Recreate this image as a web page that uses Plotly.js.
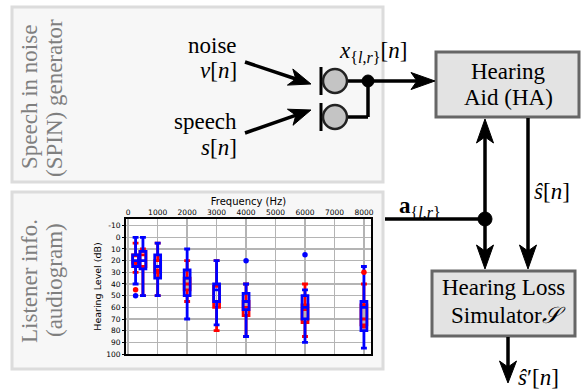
<!DOCTYPE html>
<html><head><meta charset="utf-8">
<script src="https://cdn.plot.ly/plotly-3.0.1.min.js"></script>
<style>html,body{margin:0;padding:0;background:#fff;} #chart{width:582px;height:392px;}</style>
</head><body><div id="chart"></div>
<script>
// ---- audiogram data (Hz / dB HL) ----
const freqs = [250, 500, 1000, 2000, 3000, 4000, 6000, 8000];
const redLower  = [5, 10, 5, 20, 20, 40, 40, 40];
const redQ1     = [15, 12, 20, 35, 42, 55, 58, 58];
const redMedian = [15, 15, 28, 40, 55, 60, 62, 70];
const redQ3     = [22, 25, 30, 45, 60, 67, 73, 75];
const redUpper  = [30, 50, 50, 55, 80, 85, 85, 77];
const blueLower  = [0, 0, 5, 10, 20, 40, 45, 25];
const blueQ1     = [15, 12, 15, 28, 40, 48, 50, 55];
const blueMedian = [20, 20, 25, 35, 45, 55, 60, 60];
const blueQ3     = [25, 27, 35, 50, 55, 62, 70, 80];
const blueUpper  = [40, 50, 50, 70, 75, 85, 90, 95];
const redOutX = [250, 8000], redOutY = [45, 30];
const blueOutX = [250, 4000, 6000], blueOutY = [50, 20, 15];
const xTickVals = [0, 1000, 2000, 3000, 4000, 5000, 6000, 7000, 8000];
const xTickText = ['0', '1000', '2000', '3000', '4000', '5000', '6000', '7000', '8000'];
const yTickVals = [-10, 0, 10, 20, 30, 40, 50, 60, 70, 80, 90, 100];
const yTickText = ['-10', '0', '10', '20', '30', '40', '50', '60', '70', '80', '90', '100'];

// ---- diagram helpers (pixel -> paper) ----
const W = 582, H = 392;
const px = x => x / W, py = y => 1 - y / H;
const shapes = [];
function rect(x0, y0, x1, y1, fill, lc, lw, layer) {
  shapes.push({type: 'rect', xref: 'paper', yref: 'paper', x0: px(x0), x1: px(x1), y0: py(y1), y1: py(y0),
    fillcolor: fill, line: {color: lc, width: lw}, layer: layer || 'above'});
}
function seg(x0, y0, x1, y1, w) {
  shapes.push({type: 'line', xref: 'paper', yref: 'paper', x0: px(x0), x1: px(x1), y0: py(y0), y1: py(y1),
    line: {color: '#000', width: w || 3.5}, layer: 'above'});
}
function circ(cx, cy, r, fill, lc, lw) {
  shapes.push({type: 'circle', xref: 'paper', yref: 'paper', x0: px(cx - r), x1: px(cx + r), y0: py(cy + r), y1: py(cy - r),
    fillcolor: fill, line: {color: lc, width: lw}, layer: 'above'});
}
function P(x, y) { return px(x).toFixed(5) + ',' + py(y).toFixed(5); }
// arrow with stealth head from (x0,y0) to tip (tx,ty)
function arrow(x0, y0, tx, ty, len, hw, notch) {
  len = len || 24; hw = hw || 8.5; notch = notch || 6;
  const L = Math.hypot(tx - x0, ty - y0), dx = (tx - x0) / L, dy = (ty - y0) / L;
  const bx = tx - len * dx, by = ty - len * dy;
  const nx = tx - (len - notch) * dx, ny = ty - (len - notch) * dy;
  seg(x0, y0, nx + dx, ny + dy);
  shapes.push({type: 'path', xref: 'paper', yref: 'paper', layer: 'above',
    path: 'M' + P(tx, ty) + 'L' + P(bx - hw * dy, by + hw * dx) + 'L' + P(nx, ny) + 'L' + P(bx + hw * dy, by - hw * dx) + 'Z',
    fillcolor: '#000', line: {color: '#000', width: 1}});
}

// panels
rect(12, 7, 383, 182, '#f7f7f7', '#dcdcdc', 3, 'below');
rect(12, 192, 383, 369, '#f7f7f7', '#dcdcdc', 3, 'below');
rect(126, 219, 371, 354, '#ffffff', 'rgba(0,0,0,0)', 0, 'below');
// blocks
rect(436, 52, 579, 117, '#e3e3e3', '#666666', 3);
rect(432, 271, 575, 336, '#e3e3e3', '#666666', 3);
// microphones
seg(321, 67, 321, 95, 3); seg(321, 103, 321, 131, 3);
seg(347, 81, 368, 81); seg(368, 81, 368, 117); seg(368, 117, 347, 117);
circ(335, 81, 12, '#c4c4c4', '#222', 2.5);
circ(335, 117, 12, '#c4c4c4', '#222', 2.5);
arrow(245, 62, 311, 84, 22, 8.5, 6);
arrow(245, 133, 311, 110, 22, 8.5, 6);
arrow(368, 81, 435, 81);
circ(368, 81, 6, '#000', '#000', 1);
// audiogram line and HA / HLS links
seg(385, 219, 485, 219);
arrow(485, 219, 485, 119);
arrow(485, 219, 485, 269);
arrow(528, 118, 528, 269);
arrow(508, 337, 508, 383, 22, 8.5, 6);
circ(485, 219, 7, '#000', '#000', 1);

const serif = 'Liberation Serif, Times New Roman, serif';
const ann = [];
function txt(x, y, t, xa, opts) {
  ann.push(Object.assign({xref: 'paper', yref: 'paper', x: px(x), y: py(y), text: t, showarrow: false,
    xanchor: xa || 'center', yanchor: 'middle', font: {family: serif, size: 23, color: '#000'}}, opts || {}));
}
const grey = {family: serif, size: 23, color: '#7f7f7f'};
txt(29, 97, 'Speech in noise', 'center', {textangle: -90, font: grey});
txt(54, 98, '(SPIN) generator', 'center', {textangle: -90, font: grey});
txt(29, 281, 'Listener info.', 'center', {textangle: -90, font: grey});
txt(54, 280, '(audiogram)', 'center', {textangle: -90, font: grey});
txt(239, 46, 'noise', 'right');
txt(239, 70, '<i>v</i>[<i>n</i>]', 'right');
txt(239, 121, 'speech', 'right');
txt(239, 147, '<i>s</i>[<i>n</i>]', 'right');
txt(337, 52, '<i>x</i><sub>{<i>l</i>,<i>r</i>}</sub>[<i>n</i>]', 'left');
txt(508, 71, 'Hearing');
txt(508, 97, 'Aid (HA)');
txt(503, 287, 'Hearing Loss');
txt(568, 315, 'Simulator<i>𝒮</i>', 'right');
txt(397, 207, '<b>a</b><sub>{<i>l</i>,<i>r</i>}</sub>', 'left');
txt(532, 191, '<i>ŝ</i>[<i>n</i>]', 'left');
txt(516, 377, '<i>ŝ</i>′[<i>n</i>]', 'left');

function boxTrace(color, lo, q1, med, q3, hi) {
  return {type: 'box', x: freqs, lowerfence: lo, q1: q1, median: med, q3: q3, upperfence: hi,
    width: 200, whiskerwidth: 1, boxpoints: false, fillcolor: 'rgba(0,0,0,0)',
    line: {color: color, width: 2.8}, hoverinfo: 'skip', showlegend: false};
}
const traces = [
  boxTrace('red', redLower, redQ1, redMedian, redQ3, redUpper),
  {type: 'scatter', mode: 'markers', x: redOutX, y: redOutY, marker: {color: 'red', size: 5.5}, showlegend: false},
  boxTrace('blue', blueLower, blueQ1, blueMedian, blueQ3, blueUpper),
  {type: 'scatter', mode: 'markers', x: blueOutX, y: blueOutY, marker: {color: 'blue', size: 5.5}, showlegend: false}
];

const sans = 'DejaVu Sans, sans-serif';
const layout = {
  width: W, height: H, margin: {l: 0, r: 0, t: 0, b: 0},
  paper_bgcolor: '#ffffff', plot_bgcolor: '#ffffff', boxmode: 'overlay', showlegend: false,
  xaxis: {domain: [px(126), px(371)], range: [-75, 8240], side: 'top',
    tickvals: xTickVals, ticktext: xTickText, tickfont: {family: sans, size: 7.5, color: '#000'},
    ticks: '', ticklabelstandoff: -1,
    showgrid: true, gridcolor: '#b4b4b4', gridwidth: 1.5, zeroline: false,
    showline: true, mirror: true, linecolor: '#000', linewidth: 2,
    title: {text: 'Frequency (Hz)', font: {family: sans, size: 10, color: '#000'}, standoff: 1}},
  yaxis: {domain: [py(354), py(219)], range: [100, -15.7],
    tickvals: yTickVals, ticktext: yTickText, tickfont: {family: sans, size: 7.5, color: '#000'},
    ticks: 'outside', ticklen: 2, tickcolor: '#000',
    showgrid: true, gridcolor: '#b4b4b4', gridwidth: 1.5, zeroline: false,
    showline: true, mirror: true, linecolor: '#000', linewidth: 2,
    title: {text: 'Hearing Level (dB)', font: {family: sans, size: 9.5, color: '#000'}, standoff: 3}},
  shapes: shapes, annotations: ann
};
Plotly.newPlot('chart', traces, layout, {staticPlot: true, displayModeBar: false});
</script></body></html>
